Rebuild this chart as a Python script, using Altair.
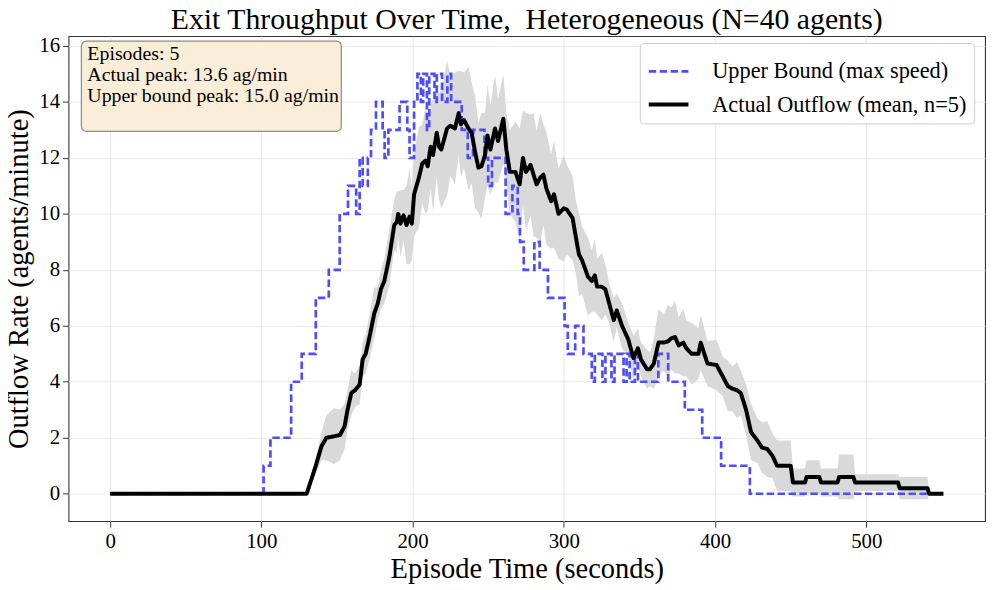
import altair as alt
import pandas as pd

FONT = "Liberation Serif"
UB = "Upper Bound (max speed)"
AC = "Actual Outflow (mean, n=5)"

# Upper bound (max speed) step series: change points (seconds, agents/min)
ub_t = [0, 101.5, 106, 119.7, 126.7, 136, 144.6, 151.8, 157.3, 162.7, 165, 167,
        170.4, 172.5, 175.8, 180.2, 181.5, 184, 191.4, 196.5, 198, 201, 203.2,
        205.5, 207, 209.5, 211, 214.5, 216, 219.5, 223, 225.5, 232.5, 236.5, 240,
        247.5, 250, 252.5, 261.5, 266, 269.5, 271, 273.5, 280.5, 284, 289.5,
        300.5, 302.6, 307.5, 313, 318.5, 320.5, 325.5, 327.5, 331.5, 333.5,
        339.5, 341.5, 343.5, 347, 349, 362.5, 369, 380, 391.5, 404, 423, 541]
ub_v = [0, 1, 2, 4, 5, 7, 8, 10, 11, 10, 12, 11,
        12, 13, 14, 13, 12, 13, 14, 13, 12, 14, 15,
        14, 15, 13, 15, 14, 15, 14, 15, 14, 13, 12, 13,
        12, 11, 12, 10, 11, 10, 9, 8, 9, 8, 7,
        6, 5, 6, 5, 4, 5, 4, 5, 4, 5,
        4, 5, 4, 5, 4, 5, 4, 3, 2, 1, 0, 0]

# Actual outflow: mean over 5 episodes and its spread
mean_t = [0, 130, 133, 136, 139.8, 143, 148, 152, 155, 157, 159.5, 162, 165, 167,
          169, 171.5, 174.7, 177, 179, 181.3, 184.6, 187.9, 189.5, 190.5, 192,
          194, 196, 198, 199.5, 201, 204.2, 206.4, 208.5, 210, 211.9, 213.5, 216,
          217.5, 219, 222.8, 225, 228, 230.5, 232, 234, 237, 239, 241.4, 243.5,
          245.5, 247.9, 249.5, 251.5, 254.5, 256.5, 260, 262, 264.3, 268, 270.8,
          273, 275, 278, 280, 282, 284.5, 286.5, 288.5, 291.6, 293.5, 296.5, 300,
          302, 305.8, 308, 310, 312, 316, 318.5, 320.5, 322, 325, 327.5, 330, 333,
          335, 338.5, 342.7, 346, 349, 351, 355, 357, 359.5, 362.6, 366, 369, 371,
          373.5, 376, 379, 381, 384.5, 389, 390.5, 395, 401, 405, 408.4, 411.5,
          414.5, 417, 420.5, 423.8, 428, 431, 434.5, 438, 441, 450, 451.5, 459.5,
          460.5, 469, 470, 481, 482, 491.5, 492.5, 521, 522, 540.5, 541.5, 551]
mean_v = [0, 0, 0.5, 1.0, 1.7, 2.0, 2.05, 2.1, 2.4, 3.0, 3.6, 3.7, 3.9, 4.8,
          5.0, 5.6, 6.45, 6.8, 7.3, 7.6, 8.45, 9.6, 9.7, 10.0, 9.65,
          9.95, 9.6, 9.9, 9.65, 10.7, 11.3, 11.8, 11.9, 11.7, 12.4, 12.1, 12.9,
          12.4, 12.3, 13.05, 13.15, 13.05, 13.6, 13.2, 13.35, 13.05, 12.9, 12.2, 11.65,
          11.7, 12.1, 12.8, 12.3, 13.05, 12.6, 13.4, 12.3, 11.5, 11.5, 11.05,
          12.0, 11.5, 11.75, 11.4, 11.05, 11.3, 11.4, 10.9, 10.45, 10.7, 10.0, 10.2,
          10.15, 9.85, 9.15, 8.55, 8.35, 7.75, 7.6, 7.8, 7.4, 7.4, 7.3, 6.8, 6.2,
          6.55, 6.0, 5.5, 4.85, 5.2, 4.8, 4.45, 4.45, 4.65, 5.4, 5.4, 5.45, 5.55,
          5.6, 5.3, 5.4, 5.2, 5.0, 5.0, 5.4, 4.65, 4.6, 4.2, 3.85, 3.75,
          3.7, 3.6, 3.0, 2.2, 1.9, 1.65, 1.6, 1.35, 1.0, 1.0, 0.4, 0.4,
          0.6, 0.6, 0.4, 0.4, 0.6, 0.6, 0.4, 0.4, 0.2, 0.2, 0, 0]
std_v = [0, 0, 0.2, 0.3, 0.5, 0.8, 1.0, 0.9, 0.8, 0.7, 0.8, 0.6, 0.7, 0.6,
         0.7, 0.8, 0.9, 0.6, 0.7, 0.8, 1.0, 0.9, 1.1, 0.8, 1.2,
         0.9, 1.4, 1.7, 1.3, 1.5, 1.8, 1.4, 1.9, 1.6, 1.5, 2.0, 1.6,
         1.9, 2.1, 2.4, 1.8, 2.0, 1.5, 1.9, 1.7, 2.2, 1.8, 2.0, 1.6,
         1.9, 1.5, 1.8, 1.6, 1.9, 1.5, 1.6, 1.3, 1.5, 1.8, 2.0,
         1.7, 2.1, 1.8, 2.2, 1.9, 2.3, 1.8, 2.0, 1.7, 1.9, 1.6, 1.9,
         1.6, 1.5, 1.3, 1.5, 1.2, 1.4, 1.1, 1.3, 1.0, 1.2, 0.9, 0.7, 0.8,
         0.6, 0.8, 0.6, 0.8, 0.7, 0.6, 0.7, 0.6, 0.9, 1.2, 1.0, 1.3, 1.1,
         1.3, 1.0, 1.2, 1.0, 1.1, 0.9, 1.0, 0.8, 0.9, 0.7, 0.9, 0.8,
         1.0, 0.8, 0.9, 1.0, 0.8, 0.9, 1.0, 0.8, 0.9, 0.9, 0.5, 0.5,
         0.6, 0.6, 0.5, 0.5, 0.8, 0.8, 0.3, 0.3, 0.4, 0.4, 0, 0]

x_ticks = [0, 100, 200, 300, 400, 500]
y_ticks = [0, 2, 4, 6, 8, 10, 12, 14, 16]

ub_df = pd.DataFrame({"t": ub_t, "v": ub_v, "series": UB})
ac_df = pd.DataFrame({"t": mean_t, "v": mean_v, "series": AC})
band_df = pd.DataFrame({
    "t": mean_t,
    "lo": [m - s for m, s in zip(mean_v, std_v)],
    "hi": [m + s for m, s in zip(mean_v, std_v)],
})

xs = alt.Scale(domain=[-27.5, 578.5], nice=False, zero=False)
ys = alt.Scale(domain=[-0.98, 16.35], nice=False, zero=False)

x_axis = alt.Axis(values=x_ticks, title="Episode Time (seconds)", format="d")
y_axis = alt.Axis(values=y_ticks, title="Outflow Rate (agents/minute)", format="d")

X = alt.X("t:Q", scale=xs, axis=x_axis)
Y = alt.Y("v:Q", scale=ys, axis=y_axis)

dom = [UB, AC]
color = alt.Color("series:N", scale=alt.Scale(domain=dom, range=["#4d4dff", "#000000"]),
                  legend=alt.Legend(title=None))
dash = alt.StrokeDash("series:N", scale=alt.Scale(domain=dom, range=[[7.5, 3.5], [1, 0]]),
                      legend=alt.Legend(title=None))
width = alt.StrokeWidth("series:N", scale=alt.Scale(domain=dom, range=[2.7, 4.0]),
                        legend=alt.Legend(title=None))

band = alt.Chart(band_df).mark_area(color="#d9d9d9", opacity=1).encode(
    x=X,
    y=alt.Y("lo:Q", scale=ys, axis=y_axis),
    y2="hi:Q",
)

ub_line = alt.Chart(ub_df).mark_line(interpolate="step-after").encode(
    x=X, y=Y, color=color, strokeDash=dash, strokeWidth=width
)

ac_line = alt.Chart(ac_df).mark_line(strokeJoin="round").encode(
    x=X, y=Y, color=color, strokeDash=dash, strokeWidth=width
)

info_text = (f"Episodes: 5\nActual peak: {max(mean_v):.1f} ag/min\n"
             f"Upper bound peak: {max(ub_v):.1f} ag/min")
one = pd.DataFrame({"label": [info_text]})

box = alt.Chart(one).mark_rect(
    fill="#faeed9", stroke="#8c8c8c", strokeWidth=1.2, cornerRadius=5
).encode(x=alt.value(13), x2=alt.value(275), y=alt.value(5), y2=alt.value(96))

box_text = alt.Chart(one).mark_text(
    align="left", baseline="alphabetic", font=FONT, fontSize=20,
    lineBreak="\n", lineHeight=20.8, color="black"
).encode(x=alt.value(19), y=alt.value(24.5), text="label:N")

chart = alt.layer(band, ub_line, ac_line, box, box_text).properties(
    width=924, height=489,
    autosize=alt.AutoSizeParams(type="none"),
    padding={"left": 61, "top": 26, "right": 4, "bottom": 62},
    title=alt.TitleParams(
        "Exit Throughput Over Time,\u00a0 Heterogeneous (N=40 agents)",
        font=FONT, fontSize=30, fontWeight="normal", color="black",
        anchor="middle", frame="group", offset=0,
    ),
).configure_view(
    stroke="#333333", strokeWidth=1.1
).configure_axis(
    labelFont=FONT, labelFontSize=21, labelColor="black",
    titleFont=FONT, titleFontSize=28.7, titleFontWeight="normal", titleColor="black",
    gridColor="#e8e8e8", gridWidth=1, domain=False,
    tickColor="#333333", tickSize=6, tickWidth=1,
).configure_axisX(
    labelPadding=4, titlePadding=3
).configure_axisY(
    labelPadding=3, titlePadding=5
).configure_legend(
    orient="none", legendX=576, legendY=7,
    fillColor="white", strokeColor="#cccccc", cornerRadius=4,
    padding=7, rowPadding=0, labelFont=FONT, labelFontSize=22.5, labelColor="black",
    labelOffset=22, labelLimit=0, symbolType="stroke", symbolSize=1600,
)

chart.save("out.html", embed_options={"renderer": "svg", "actions": False})
